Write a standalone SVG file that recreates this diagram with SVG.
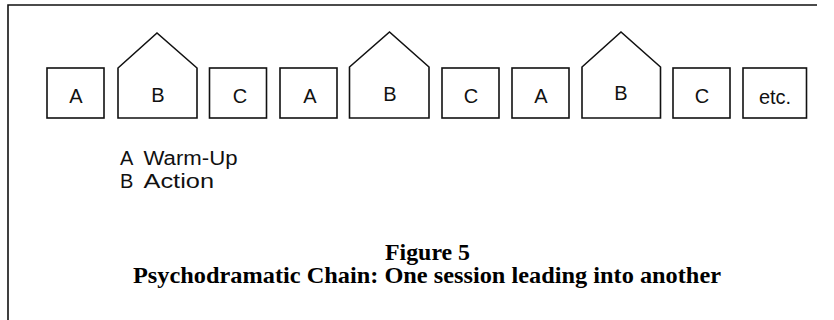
<svg xmlns="http://www.w3.org/2000/svg" width="834" height="320" viewBox="0 0 834 320">
<style>
.box{fill:#fff;stroke:#111;stroke-width:1.6}
.lbl{font-family:"Liberation Sans",Arial,sans-serif;font-size:20px;fill:#111;text-anchor:middle}
.leg{font-family:"Liberation Sans",Arial,sans-serif;font-size:20px;fill:#111}
.cap{font-family:"Liberation Serif","Times New Roman",serif;font-weight:bold;font-size:23px;fill:#000}
.frame{fill:none;stroke:#111;stroke-width:1.6}
</style>
<rect width="834" height="320" fill="#fff"/>
<path class="frame" d="M8,320 V5 H817"/>
<g id="A1"><rect class="box" x="47" y="68" width="57" height="50"/><text class="lbl" x="76" y="103">A</text></g>
<g id="B1"><path class="box" d="M118,118 V68 L157,33 L197,68 V118 Z"/><text class="lbl" x="158" y="102">B</text></g>
<g id="C1"><rect class="box" x="209.5" y="68" width="57" height="50"/><text class="lbl" x="240" y="103">C</text></g>
<g id="A2"><rect class="box" x="280" y="68" width="57" height="50"/><text class="lbl" x="310" y="103">A</text></g>
<g id="B2"><path class="box" d="M349.5,118 V67 L389.5,32 L429,67 V118 Z"/><text class="lbl" x="390" y="101">B</text></g>
<g id="C2"><rect class="box" x="442" y="68" width="57" height="50"/><text class="lbl" x="471" y="103">C</text></g>
<g id="A3"><rect class="box" x="512" y="68" width="57" height="50"/><text class="lbl" x="541" y="103">A</text></g>
<g id="B3"><path class="box" d="M582,118 V67 L621,32 L660.5,67 V118 Z"/><text class="lbl" x="621" y="100">B</text></g>
<g id="C3"><rect class="box" x="673" y="68" width="57" height="50"/><text class="lbl" x="702" y="103">C</text></g>
<g id="etc"><rect class="box" x="743" y="68" width="63.5" height="50"/><text class="lbl" x="775" y="104">etc.</text></g>
<g id="connectors"></g>
<g id="legend">
<text class="leg" y="165"><tspan x="120">A</tspan><tspan x="143.5" textLength="94" lengthAdjust="spacingAndGlyphs">Warm-Up</tspan></text>
<text class="leg" y="188"><tspan x="120">B</tspan><tspan x="143.5" textLength="70.5" lengthAdjust="spacingAndGlyphs">Action</tspan></text>
</g>
<g id="caption">
<text class="cap" x="385" y="260" textLength="85" lengthAdjust="spacingAndGlyphs">Figure 5</text>
<text class="cap" x="133" y="283" textLength="588" lengthAdjust="spacingAndGlyphs">Psychodramatic Chain: One session leading into another</text>
</g>
</svg>
